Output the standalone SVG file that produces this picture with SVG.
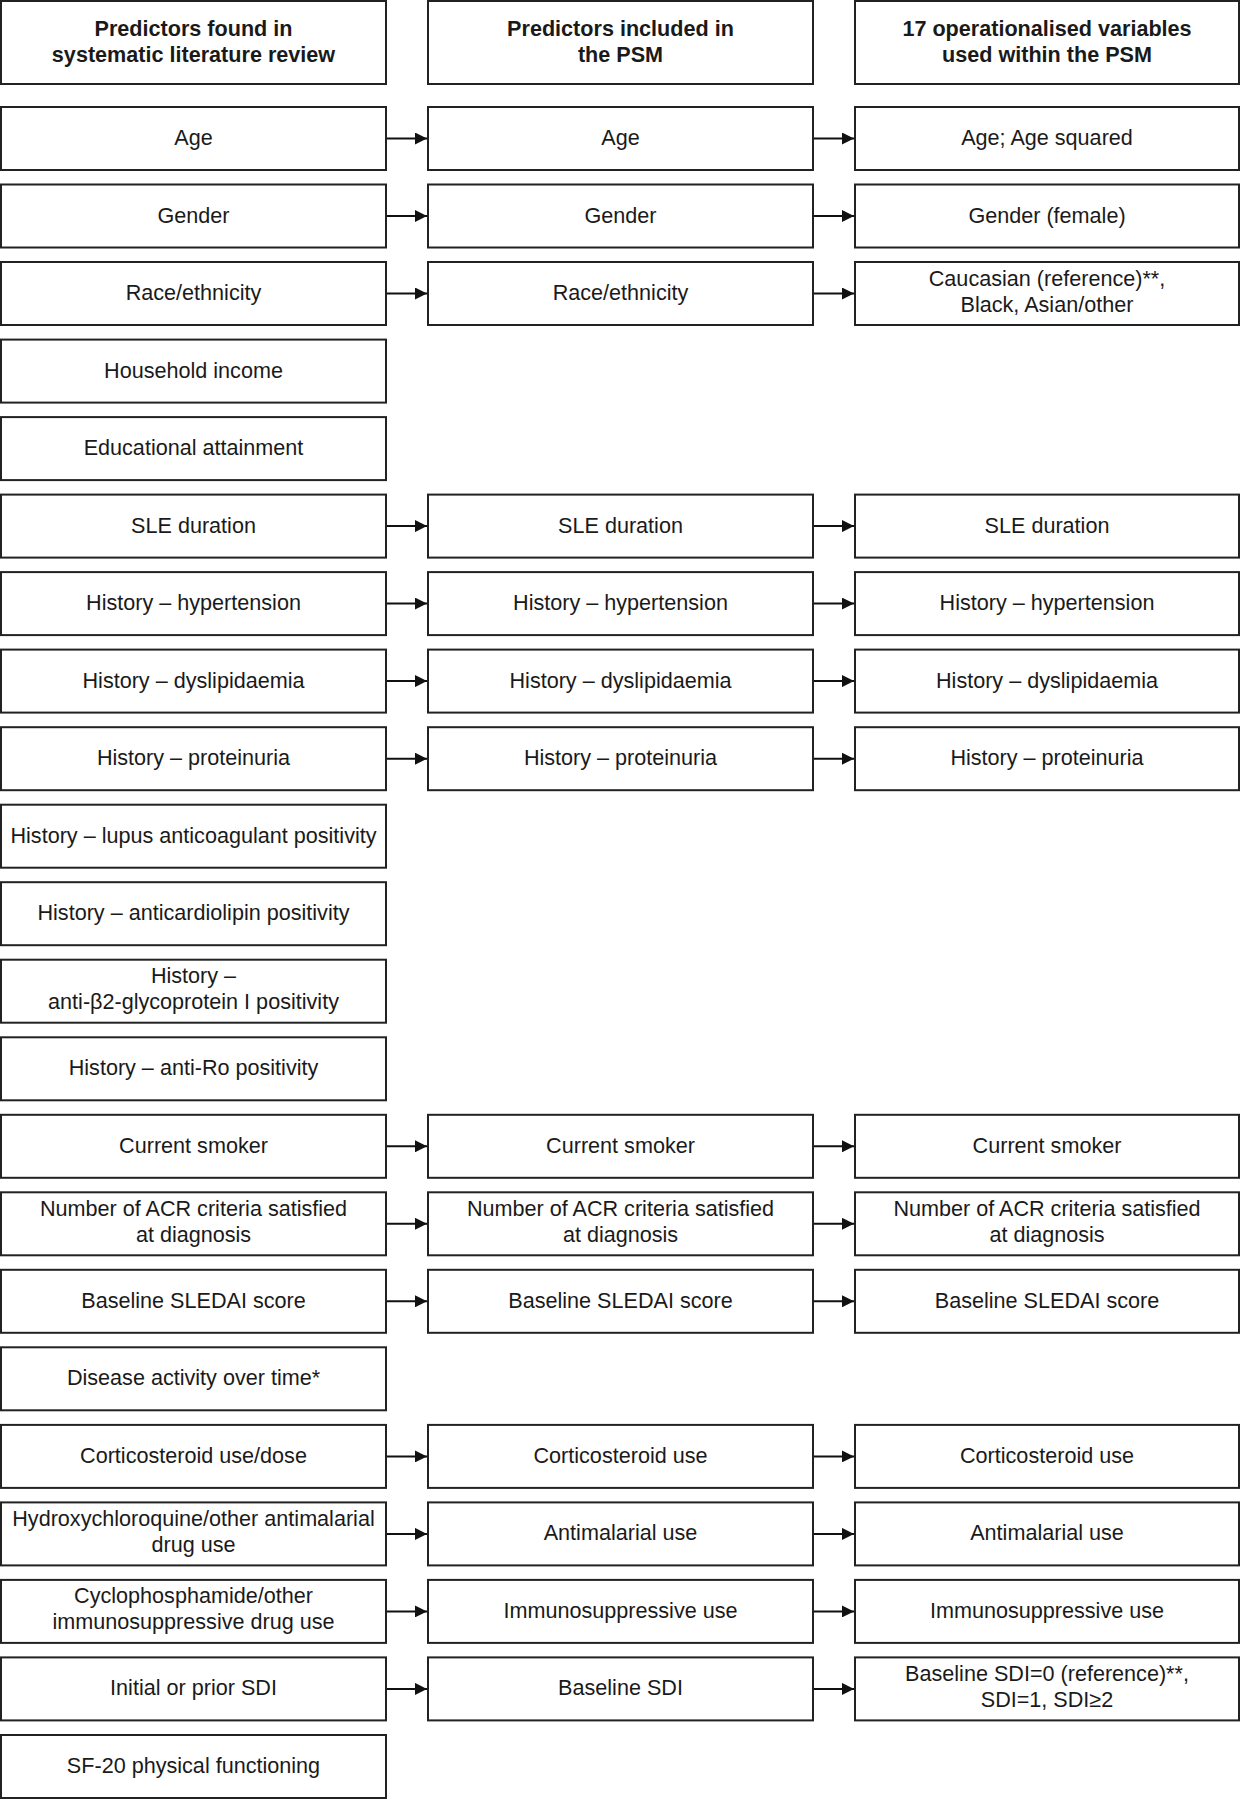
<svg xmlns="http://www.w3.org/2000/svg" width="1241" height="1800" viewBox="0 0 1241 1800">
<defs>
<marker id="ah" viewBox="0 0 12 12" refX="12" refY="6" markerWidth="12" markerHeight="12" markerUnits="userSpaceOnUse" orient="auto">
<path d="M0,0 L12,6 L0,12 Z" fill="#111"/>
</marker>
<style>
rect{fill:#fff;stroke:#222;stroke-width:2}
text{font-family:"Liberation Sans",Arial,sans-serif;font-size:21.6px;fill:#1a1a1a;text-anchor:middle}
.h{font-weight:bold;font-size:21.6px}
.c line{stroke:#111;stroke-width:2;marker-end:url(#ah)}
</style>
</defs>
<rect x="0" y="0" width="1241" height="1800" style="fill:#fff;stroke:none"/>
<g id="h1"><rect x="1" y="1" width="385" height="83"/><text class="h" x="193.5" y="36">Predictors found in</text><text class="h" x="193.5" y="62">systematic literature review</text></g>
<g id="h2"><rect x="428" y="1" width="385" height="83"/><text class="h" x="620.5" y="36">Predictors included in</text><text class="h" x="620.5" y="62">the PSM</text></g>
<g id="h3"><rect x="855" y="1" width="384" height="83"/><text class="h" x="1047" y="36">17 operationalised variables</text><text class="h" x="1047" y="62">used within the PSM</text></g>

<g id="a0"><rect x="1" y="107" width="385" height="63"/><text x="193.5" y="145">Age</text></g>
<g id="a1"><rect x="1" y="184.5" width="385" height="63"/><text x="193.5" y="222.5">Gender</text></g>
<g id="a2"><rect x="1" y="262" width="385" height="63"/><text x="193.5" y="300">Race/ethnicity</text></g>
<g id="a3"><rect x="1" y="339.6" width="385" height="63"/><text x="193.5" y="377.6">Household income</text></g>
<g id="a4"><rect x="1" y="417.1" width="385" height="63"/><text x="193.5" y="455.1">Educational attainment</text></g>
<g id="a5"><rect x="1" y="494.6" width="385" height="63"/><text x="193.5" y="532.6">SLE duration</text></g>
<g id="a6"><rect x="1" y="572.1" width="385" height="63"/><text x="193.5" y="610.1">History – hypertension</text></g>
<g id="a7"><rect x="1" y="649.6" width="385" height="63"/><text x="193.5" y="687.6">History – dyslipidaemia</text></g>
<g id="a8"><rect x="1" y="727.2" width="385" height="63"/><text x="193.5" y="765.2">History – proteinuria</text></g>
<g id="a9"><rect x="1" y="804.7" width="385" height="63"/><text x="193.5" y="842.7">History – lupus anticoagulant positivity</text></g>
<g id="a10"><rect x="1" y="882.2" width="385" height="63"/><text x="193.5" y="920.2">History – anticardiolipin positivity</text></g>
<g id="a11"><rect x="1" y="959.7" width="385" height="63"/><text x="193.5" y="983.2">History –</text><text x="193.5" y="1009.2">anti-β2-glycoprotein I positivity</text></g>
<g id="a12"><rect x="1" y="1037.3" width="385" height="63"/><text x="193.5" y="1075.3">History – anti-Ro positivity</text></g>
<g id="a13"><rect x="1" y="1114.8" width="385" height="63"/><text x="193.5" y="1152.8">Current smoker</text></g>
<g id="a14"><rect x="1" y="1192.3" width="385" height="63"/><text x="193.5" y="1215.8">Number of ACR criteria satisfied</text><text x="193.5" y="1241.8">at diagnosis</text></g>
<g id="a15"><rect x="1" y="1269.8" width="385" height="63"/><text x="193.5" y="1307.8">Baseline SLEDAI score</text></g>
<g id="a16"><rect x="1" y="1347.3" width="385" height="63"/><text x="193.5" y="1385.3">Disease activity over time*</text></g>
<g id="a17"><rect x="1" y="1424.9" width="385" height="63"/><text x="193.5" y="1462.9">Corticosteroid use/dose</text></g>
<g id="a18"><rect x="1" y="1502.4" width="385" height="63"/><text x="193.5" y="1525.9">Hydroxychloroquine/other antimalarial</text><text x="193.5" y="1551.9">drug use</text></g>
<g id="a19"><rect x="1" y="1579.9" width="385" height="63"/><text x="193.5" y="1603.4">Cyclophosphamide/other</text><text x="193.5" y="1629.4">immunosuppressive drug use</text></g>
<g id="a20"><rect x="1" y="1657.4" width="385" height="63"/><text x="193.5" y="1695.4">Initial or prior SDI</text></g>
<g id="a21"><rect x="1" y="1735" width="385" height="63"/><text x="193.5" y="1773">SF-20 physical functioning</text></g>

<g id="b0"><rect x="428" y="107" width="385" height="63"/><text x="620.5" y="145">Age</text></g>
<g id="b1"><rect x="428" y="184.5" width="385" height="63"/><text x="620.5" y="222.5">Gender</text></g>
<g id="b2"><rect x="428" y="262" width="385" height="63"/><text x="620.5" y="300">Race/ethnicity</text></g>
<g id="b5"><rect x="428" y="494.6" width="385" height="63"/><text x="620.5" y="532.6">SLE duration</text></g>
<g id="b6"><rect x="428" y="572.1" width="385" height="63"/><text x="620.5" y="610.1">History – hypertension</text></g>
<g id="b7"><rect x="428" y="649.6" width="385" height="63"/><text x="620.5" y="687.6">History – dyslipidaemia</text></g>
<g id="b8"><rect x="428" y="727.2" width="385" height="63"/><text x="620.5" y="765.2">History – proteinuria</text></g>
<g id="b13"><rect x="428" y="1114.8" width="385" height="63"/><text x="620.5" y="1152.8">Current smoker</text></g>
<g id="b14"><rect x="428" y="1192.3" width="385" height="63"/><text x="620.5" y="1215.8">Number of ACR criteria satisfied</text><text x="620.5" y="1241.8">at diagnosis</text></g>
<g id="b15"><rect x="428" y="1269.8" width="385" height="63"/><text x="620.5" y="1307.8">Baseline SLEDAI score</text></g>
<g id="b17"><rect x="428" y="1424.9" width="385" height="63"/><text x="620.5" y="1462.9">Corticosteroid use</text></g>
<g id="b18"><rect x="428" y="1502.4" width="385" height="63"/><text x="620.5" y="1540.4">Antimalarial use</text></g>
<g id="b19"><rect x="428" y="1579.9" width="385" height="63"/><text x="620.5" y="1617.9">Immunosuppressive use</text></g>
<g id="b20"><rect x="428" y="1657.4" width="385" height="63"/><text x="620.5" y="1695.4">Baseline SDI</text></g>

<g id="c0"><rect x="855" y="107" width="384" height="63"/><text x="1047" y="145">Age; Age squared</text></g>
<g id="c1"><rect x="855" y="184.5" width="384" height="63"/><text x="1047" y="222.5">Gender (female)</text></g>
<g id="c2"><rect x="855" y="262" width="384" height="63"/><text x="1047" y="285.5">Caucasian (reference)**,</text><text x="1047" y="311.5">Black, Asian/other</text></g>
<g id="c5"><rect x="855" y="494.6" width="384" height="63"/><text x="1047" y="532.6">SLE duration</text></g>
<g id="c6"><rect x="855" y="572.1" width="384" height="63"/><text x="1047" y="610.1">History – hypertension</text></g>
<g id="c7"><rect x="855" y="649.6" width="384" height="63"/><text x="1047" y="687.6">History – dyslipidaemia</text></g>
<g id="c8"><rect x="855" y="727.2" width="384" height="63"/><text x="1047" y="765.2">History – proteinuria</text></g>
<g id="c13"><rect x="855" y="1114.8" width="384" height="63"/><text x="1047" y="1152.8">Current smoker</text></g>
<g id="c14"><rect x="855" y="1192.3" width="384" height="63"/><text x="1047" y="1215.8">Number of ACR criteria satisfied</text><text x="1047" y="1241.8">at diagnosis</text></g>
<g id="c15"><rect x="855" y="1269.8" width="384" height="63"/><text x="1047" y="1307.8">Baseline SLEDAI score</text></g>
<g id="c17"><rect x="855" y="1424.9" width="384" height="63"/><text x="1047" y="1462.9">Corticosteroid use</text></g>
<g id="c18"><rect x="855" y="1502.4" width="384" height="63"/><text x="1047" y="1540.4">Antimalarial use</text></g>
<g id="c19"><rect x="855" y="1579.9" width="384" height="63"/><text x="1047" y="1617.9">Immunosuppressive use</text></g>
<g id="c20"><rect x="855" y="1657.4" width="384" height="63"/><text x="1047" y="1680.9">Baseline SDI=0 (reference)**,</text><text x="1047" y="1706.9">SDI=1, SDI≥2</text></g>

<g id="connectors" class="c">
<line x1="387" y1="138.5" x2="427" y2="138.5"/><line x1="814" y1="138.5" x2="854" y2="138.5"/>
<line x1="387" y1="216" x2="427" y2="216"/><line x1="814" y1="216" x2="854" y2="216"/>
<line x1="387" y1="293.5" x2="427" y2="293.5"/><line x1="814" y1="293.5" x2="854" y2="293.5"/>
<line x1="387" y1="526.1" x2="427" y2="526.1"/><line x1="814" y1="526.1" x2="854" y2="526.1"/>
<line x1="387" y1="603.6" x2="427" y2="603.6"/><line x1="814" y1="603.6" x2="854" y2="603.6"/>
<line x1="387" y1="681.1" x2="427" y2="681.1"/><line x1="814" y1="681.1" x2="854" y2="681.1"/>
<line x1="387" y1="758.7" x2="427" y2="758.7"/><line x1="814" y1="758.7" x2="854" y2="758.7"/>
<line x1="387" y1="1146.3" x2="427" y2="1146.3"/><line x1="814" y1="1146.3" x2="854" y2="1146.3"/>
<line x1="387" y1="1223.8" x2="427" y2="1223.8"/><line x1="814" y1="1223.8" x2="854" y2="1223.8"/>
<line x1="387" y1="1301.3" x2="427" y2="1301.3"/><line x1="814" y1="1301.3" x2="854" y2="1301.3"/>
<line x1="387" y1="1456.4" x2="427" y2="1456.4"/><line x1="814" y1="1456.4" x2="854" y2="1456.4"/>
<line x1="387" y1="1533.9" x2="427" y2="1533.9"/><line x1="814" y1="1533.9" x2="854" y2="1533.9"/>
<line x1="387" y1="1611.4" x2="427" y2="1611.4"/><line x1="814" y1="1611.4" x2="854" y2="1611.4"/>
<line x1="387" y1="1688.9" x2="427" y2="1688.9"/><line x1="814" y1="1688.9" x2="854" y2="1688.9"/>
</g>
</svg>
